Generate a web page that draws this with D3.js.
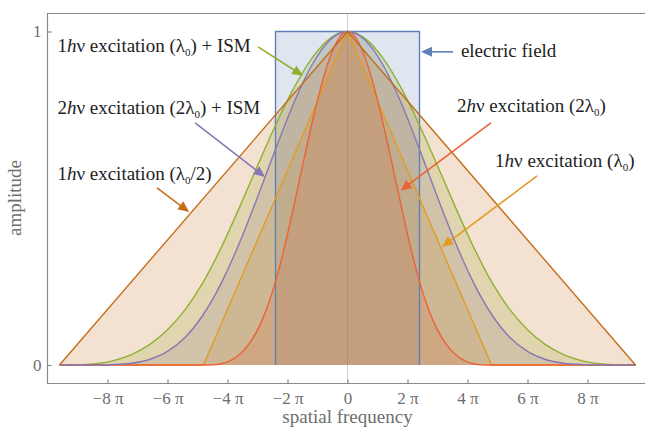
<!DOCTYPE html>
<html>
<head>
<meta charset="utf-8">
<script src="https://cdn.jsdelivr.net/npm/d3@7"></script>
<style>
  html, body { margin: 0; padding: 0; background: #fff; }
  svg { display: block; }
</style>
</head>
<body>
<svg id="chart" width="645" height="429"></svg>
<script>
// ---------- data (x in units of π, y = amplitude) ----------
const xWide = [-9.6,-9.0,-8.4,-7.8,-7.2,-6.6,-6.0,-5.4,-4.8,-4.2,-3.6,-3.0,-2.4,-1.8,-1.2,-0.6,0,
               0.6,1.2,1.8,2.4,3.0,3.6,4.2,4.8,5.4,6.0,6.6,7.2,7.8,8.4,9.0,9.6];
const xNarrow = [-9.6,-4.8,-4.5,-4.2,-3.9,-3.6,-3.3,-3.0,-2.7,-2.4,-2.1,-1.8,-1.5,-1.2,-0.9,-0.6,-0.3,0,
                 0.3,0.6,0.9,1.2,1.5,1.8,2.1,2.4,2.7,3.0,3.3,3.6,3.9,4.2,4.5,4.8,9.6];

// 1hν excitation (λ0) + ISM  (green)
const ismOneP = [0,0.0005,0.0039,0.0132,0.0313,0.061,0.1055,0.1675,0.25,0.354,0.4727,0.5972,0.7188,0.8286,0.918,0.978,1,
                 0.978,0.918,0.8286,0.7188,0.5972,0.4727,0.354,0.25,0.1675,0.1055,0.061,0.0313,0.0132,0.0039,0.0005,0];
// 2hν excitation (2λ0) + ISM  (purple)
const ismTwoP = [0,0,0.0002,0.0013,0.0054,0.0166,0.0406,0.084,0.1522,0.2471,0.3663,0.5031,0.6467,0.7834,0.8973,0.9732,1,
                 0.9732,0.8973,0.7834,0.6467,0.5031,0.3663,0.2471,0.1522,0.084,0.0406,0.0166,0.0054,0.0013,0.0002,0,0];
// 2hν excitation (2λ0)  (red)
const twoP = [0,0,0.0005,0.0039,0.0132,0.0313,0.061,0.1055,0.1675,0.25,0.354,0.4727,0.5972,0.7188,0.8286,0.918,0.978,1,
              0.978,0.918,0.8286,0.7188,0.5972,0.4727,0.354,0.25,0.1675,0.1055,0.061,0.0313,0.0132,0.0039,0.0005,0,0];
// 1hν excitation (λ0/2)  (dark orange triangle)
const xTriHalf = [-9.6, 0, 9.6];
const oneHalf = [0, 1, 0];
// 1hν excitation (λ0)  (orange triangle)
const xTri = [-9.6, -4.8, 0, 4.8, 9.6];
const oneP = [0, 0, 1, 0, 0];
// electric field (blue box)
const xField = [-2.4, -2.4, 2.4, 2.4];
const field = [0, 1, 1, 0];

const xTicks = [-8,-6,-4,-2,0,2,4,6,8];
const xTickLabels = ["−8 π","−6 π","−4 π","−2 π","0","2 π","4 π","6 π","8 π"];
const yTicks = [0, 1];
const yTickLabels = ["0", "1"];

// annotation texts: parts [text, style]  (style: "" normal, "i" italic, "s" subscript)
const labelTexts = [
  [["1",""],["h","i"],["ν excitation (λ",""],["0","s"],[") + ISM",""]],
  [["2",""],["h","i"],["ν excitation (2λ",""],["0","s"],[") + ISM",""]],
  [["1",""],["h","i"],["ν excitation (λ",""],["0","s"],["/2)",""]],
  [["electric field",""]],
  [["2",""],["h","i"],["ν excitation (2λ",""],["0","s"],[")",""]],
  [["1",""],["h","i"],["ν excitation (λ",""],["0","s"],[")",""]]
];
const labelX = [-9.67, -9.67, -9.67, 3.78, 3.65, 4.92];
const labelY = [0.939, 0.753, 0.555, 0.924, 0.759, 0.594];
// arrows (data coords): start -> tip
const arrowFromX = [-2.98, -5.08, -6.35, 3.52, 4.78, 6.32];
const arrowFromY = [0.954, 0.726, 0.531, 0.939, 0.726, 0.567];
const arrowToX   = [-1.48, -2.75, -5.28, 2.45, 1.77, 3.15];
const arrowToY   = [0.867, 0.564, 0.459, 0.939, 0.523, 0.354];
const arrowColor = ["#8FB032", "#8778B3", "#C56E1A", "#5E81B5", "#EB6235", "#E19C24"];

// ---------- drawing ----------
const FONT = "Liberation Serif";
const svg = d3.select("#chart");
const x = d3.scaleLinear().domain([-10, 10]).range([47.5, 647.5]);
const y = d3.scaleLinear().domain([0, 1]).range([365, 31.5]);
const frameTop = 13.5, frameBottom = 383.5, frameLeft = 47.5, frameRight = 647.5;

// zero axis line
svg.append("line")
  .attr("x1", x(0)).attr("x2", x(0))
  .attr("y1", frameTop).attr("y2", frameBottom)
  .attr("stroke", "#cfcfcf").attr("stroke-width", 1);

const series = [
  {xs: xField,   ys: field,   color: "#5E81B5", curve: d3.curveLinear},
  {xs: xTri,     ys: oneP,    color: "#E19C24", curve: d3.curveLinear},
  {xs: xWide,    ys: ismOneP, color: "#8FB032", curve: d3.curveMonotoneX},
  {xs: xNarrow,  ys: twoP,    color: "#EB6235", curve: d3.curveMonotoneX},
  {xs: xWide,    ys: ismTwoP, color: "#8778B3", curve: d3.curveMonotoneX},
  {xs: xTriHalf, ys: oneHalf, color: "#C56E1A", curve: d3.curveLinear}
];

const gFill = svg.append("g");
const gLine = svg.append("g");
series.forEach(s => {
  const pts = s.xs.map((v, i) => [v, s.ys[i]]);
  const area = d3.area().x(d => x(d[0])).y0(y(0)).y1(d => y(d[1])).curve(s.curve);
  const line = d3.line().x(d => x(d[0])).y(d => y(d[1])).curve(s.curve);
  gFill.append("path").attr("d", area(pts))
    .attr("fill", s.color).attr("fill-opacity", 0.2).attr("stroke", "none");
  gLine.append("path").attr("d", line(pts))
    .attr("fill", "none").attr("stroke", s.color).attr("stroke-width", 1.4)
    .attr("stroke-linejoin", "round");
});

// frame
const frameColor = "#8a8a8a";
svg.append("path")
  .attr("d", `M${frameRight},${frameTop}H${frameLeft}V${frameBottom}H${frameRight}`)
  .attr("fill", "none").attr("stroke", frameColor).attr("stroke-width", 1.2);

// axes
const xAxis = d3.axisBottom(x).tickValues(xTicks)
  .tickFormat((d, i) => xTickLabels[i]).tickSizeInner(-4).tickSizeOuter(0).tickPadding(8);
const gx = svg.append("g").attr("transform", `translate(0,${frameBottom})`).call(xAxis);
gx.attr("font-family", FONT).attr("font-size", 17);
gx.select(".domain").remove();
gx.selectAll(".tick line").attr("stroke", frameColor).attr("stroke-width", 1.2);
gx.selectAll(".tick text").attr("fill", "#6e6e6e").attr("font-family", FONT).attr("font-size", 17);

const yAxis = d3.axisLeft(y).tickValues(yTicks)
  .tickFormat((d, i) => yTickLabels[i]).tickSizeInner(-4).tickSizeOuter(0).tickPadding(6);
const gy = svg.append("g").attr("transform", `translate(${frameLeft},0)`).call(yAxis);
gy.attr("font-family", FONT).attr("font-size", 17);
gy.select(".domain").remove();
gy.selectAll(".tick line").attr("stroke", frameColor).attr("stroke-width", 1.2);
gy.selectAll(".tick text").attr("fill", "#6e6e6e").attr("font-family", FONT).attr("font-size", 17);

// axis titles
svg.append("text").attr("x", x(0)).attr("y", 423)
  .attr("text-anchor", "middle").attr("fill", "#6e6e6e")
  .attr("font-family", FONT).attr("font-size", 19).text("spatial frequency");
svg.append("text").attr("transform", `translate(21,${198}) rotate(-90)`)
  .attr("text-anchor", "middle").attr("fill", "#6e6e6e")
  .attr("font-family", FONT).attr("font-size", 19).text("amplitude");

// arrows
arrowFromX.forEach((fx, i) => {
  const x1 = x(fx), y1 = y(arrowFromY[i]), x2 = x(arrowToX[i]), y2 = y(arrowToY[i]);
  const ang = Math.atan2(y2 - y1, x2 - x1);
  const L = 11, Wd = 5;
  const bx = x2 - L * Math.cos(ang), by = y2 - L * Math.sin(ang);
  svg.append("line").attr("x1", x1).attr("y1", y1).attr("x2", bx + 2 * Math.cos(ang)).attr("y2", by + 2 * Math.sin(ang))
    .attr("stroke", arrowColor[i]).attr("stroke-width", 1.6);
  const px = -Math.sin(ang), py = Math.cos(ang);
  svg.append("path")
    .attr("d", `M${x2},${y2}L${bx + Wd * px},${by + Wd * py}L${bx - Wd * px},${by - Wd * py}Z`)
    .attr("fill", arrowColor[i]);
});

// labels
labelTexts.forEach((parts, i) => {
  const t = svg.append("text").attr("x", x(labelX[i])).attr("y", y(labelY[i]))
    .attr("fill", "#222").attr("font-family", FONT).attr("font-size", 19);
  parts.forEach(([txt, st], k) => {
    const ts = t.append("tspan").text(txt);
    if (st === "i") ts.attr("font-style", "italic");
    if (st === "s") ts.attr("font-size", 11).attr("dy", 4);
    if (k > 0 && parts[k - 1][1] === "s") ts.attr("dy", -4);
  });
});
</script>
</body>
</html>
